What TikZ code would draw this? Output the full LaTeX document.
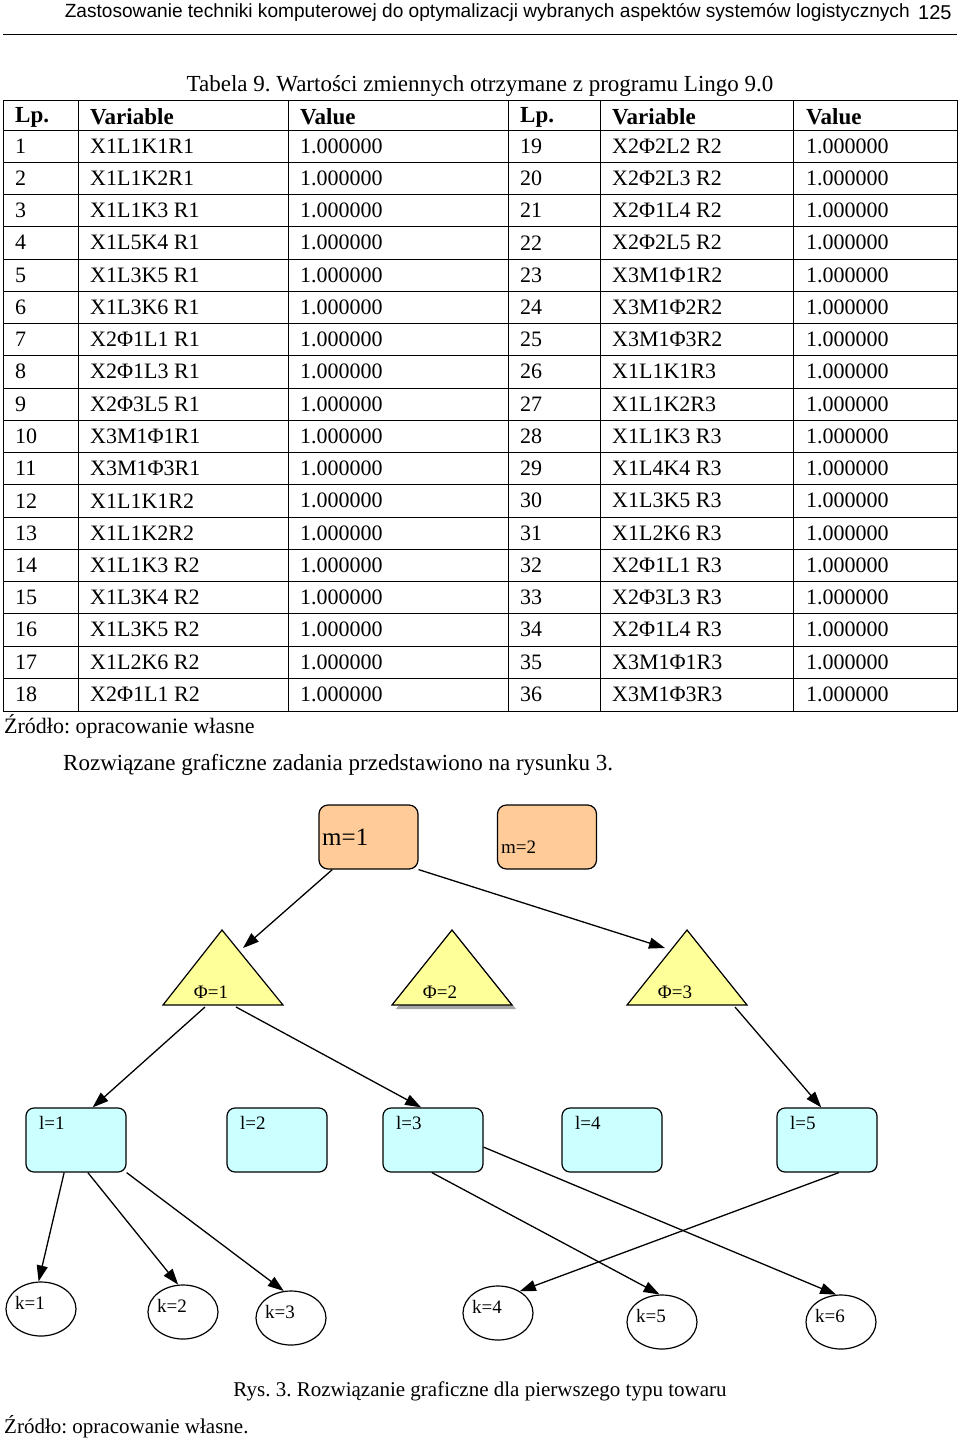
\documentclass[tikz,border=0pt]{standalone}
\usepackage{fontspec}
\setmainfont{Liberation Serif}
\newfontfamily\hdrfont{Liberation Sans}
\usetikzlibrary{arrows.meta,shapes.geometric}
\frenchspacing
\begin{document}
\begin{tikzpicture}[x=1pt,y=-1pt,
  cell/.style={anchor=west,inner sep=0pt,font=\fontsize{22}{24}\selectfont},
  hcell/.style={anchor=west,inner sep=0pt,font=\fontsize{23}{25}\selectfont\bfseries},
  mbox/.style={draw,line width=1.2pt,rounded corners=9pt,fill={rgb,255:red,255;green,204;blue,153},minimum width=99pt,minimum height=64pt,inner sep=0pt},
  lbox/.style={draw,line width=1.2pt,rounded corners=8pt,fill={rgb,255:red,204;green,255;blue,255},minimum width=100pt,minimum height=64pt,inner sep=0pt},
  kell/.style={draw,line width=1.2pt,ellipse,minimum width=70pt,minimum height=54pt,inner sep=0pt},
  tri/.style={draw,line width=1.2pt,fill={rgb,255:red,255;green,255;blue,153}},
  lab/.style={inner sep=0pt,font=\fontsize{19}{21}\selectfont},
  edge/.style={line width=1.3pt,-{Triangle[length=16pt,width=11pt]}}]
\useasboundingbox (0,0) rectangle (960,1440);
% header
\node[anchor=east,inner sep=0pt,font=\hdrfont\fontsize{19.1}{21}\selectfont] (hdr) at (910,12) {Zastosowanie techniki komputerowej do optymalizacji wybranych aspektów systemów logistycznych};
\node[anchor=west,inner sep=0pt,font=\hdrfont\fontsize{20}{22}\selectfont] (pg) at (918,13) {125};
\draw[line width=1pt] (3,34) -- (957,34);
\node[inner sep=0pt,font=\fontsize{23}{25}\selectfont] (cap) at (480,86) {Tabela 9. Wartości zmiennych otrzymane z programu Lingo 9.0};
% table grid
\draw[line width=1pt] (3,100) rectangle (957,711);
\foreach \x in {78,288,508,600,793} \draw[line width=1pt] (\x,100) -- (\x,711);
\foreach \i in {0,...,17} \draw[line width=1pt] (3,{130+\i*32.25}) -- (957,{130+\i*32.25});
\foreach \t/\x in {Lp./15,Variable/90,Value/300,Lp./520,Variable/612,Value/806}
  \node[hcell] at (\x,117) {\t};
\foreach \v [count=\i] in {X1L1K1R1,X1L1K2R1,X1L1K3 R1,X1L5K4 R1,X1L3K5 R1,X1L3K6 R1,X2Φ1L1 R1,X2Φ1L3 R1,X2Φ3L5 R1,X3M1Φ1R1,X3M1Φ3R1,X1L1K1R2,X1L1K2R2,X1L1K3 R2,X1L3K4 R2,X1L3K5 R2,X1L2K6 R2,X2Φ1L1 R2}{
  \node[cell] at (15,{146+(\i-1)*32.25}) {\i};
  \node[cell] at (90,{146+(\i-1)*32.25}) {\v};
  \node[cell] at (300,{146+(\i-1)*32.25}) {1.000000};}
\foreach \v [count=\i from 19] in {X2Φ2L2 R2,X2Φ2L3 R2,X2Φ1L4 R2,X2Φ2L5 R2,X3M1Φ1R2,X3M1Φ2R2,X3M1Φ3R2,X1L1K1R3,X1L1K2R3,X1L1K3 R3,X1L4K4 R3,X1L3K5 R3,X1L2K6 R3,X2Φ1L1 R3,X2Φ3L3 R3,X2Φ1L4 R3,X3M1Φ1R3,X3M1Φ3R3}{
  \node[cell] at (520,{146+(\i-19)*32.25}) {\i};
  \node[cell] at (612,{146+(\i-19)*32.25}) {\v};
  \node[cell] at (806,{146+(\i-19)*32.25}) {1.000000};}
\node[cell] (src1) at (4,726) {Źródło: opracowanie własne};
\node[cell,font=\fontsize{23}{25}\selectfont] (txt) at (63,765) {Rozwiązane graficzne zadania przedstawiono na rysunku 3.};
% diagram
\node[mbox] (m1) at (368.5,837) {};
\node[mbox] (m2) at (547,837) {};
\node[anchor=west,inner sep=0pt,font=\fontsize{25}{27}\selectfont] at (322,837) {m=1};
\node[lab,anchor=west] at (501,847) {m=2};
\fill[gray!70] (456,934) -- (516,1009) -- (396,1009) -- cycle;
\draw[tri] (222,930) coordinate (p1top) -- (283,1005) -- (163,1005) -- cycle;
\draw[tri] (452,930) coordinate (p2top) -- (512,1005) -- (392,1005) -- cycle;
\draw[tri] (687,930) coordinate (p3top) -- (747,1005) -- (627,1005) -- cycle;
\node[lab] (f1) at (211,992) {Φ=1};
\node[lab] (f2) at (440,992) {Φ=2};
\node[lab] (f3) at (675,992) {Φ=3};
\coordinate (p1in) at (243,948);
\coordinate (p3in) at (665,948);
\coordinate (p1a) at (205,1007);
\coordinate (p1b) at (236,1007);
\coordinate (p3a) at (735,1007);
\foreach \n/\x in {1/76,2/277,3/433,4/612,5/827}{
  \node[lbox] (l\n) at (\x,1140) {};
  \node[lab,anchor=west] at ({\x-37},1123) {l=\n};}
\foreach \n/\x/\y in {1/41/1309,2/183/1312,3/291/1318,4/498/1313,5/662/1322,6/841/1322}{
  \node[kell] (k\n) at (\x,\y) {};
  \node[lab,anchor=west] at ({\x-26},{\y-6}) {k=\n};}
\draw[edge] (m1.-138) -- (p1in);
\draw[edge] (m1.south east) -- (p3in);
\draw[edge] (p1a) -- (l1.63);
\draw[edge] (p1b) -- (l3.110);
\draw[edge] (p3a) -- (l5.100);
\draw[edge] (l1.-110) -- (k1.95);
\draw[edge] (l1.-70) -- (k2.100);
\draw[edge] (l1.south east) -- (k3.105);
\draw[edge] (l3.-92) -- (k5.95);
\draw[edge] (l3.-8) -- (k6.100);
\draw[edge] (l5.-70) -- (k4.45);
\node[cell,anchor=center,font=\fontsize{21}{23}\selectfont] (cap2) at (480,1391) {Rys. 3. Rozwiązanie graficzne dla pierwszego typu towaru};
\node[cell,font=\fontsize{21}{23}\selectfont] (src2) at (4,1427) {Źródło: opracowanie własne.};
\end{tikzpicture}
\end{document}
